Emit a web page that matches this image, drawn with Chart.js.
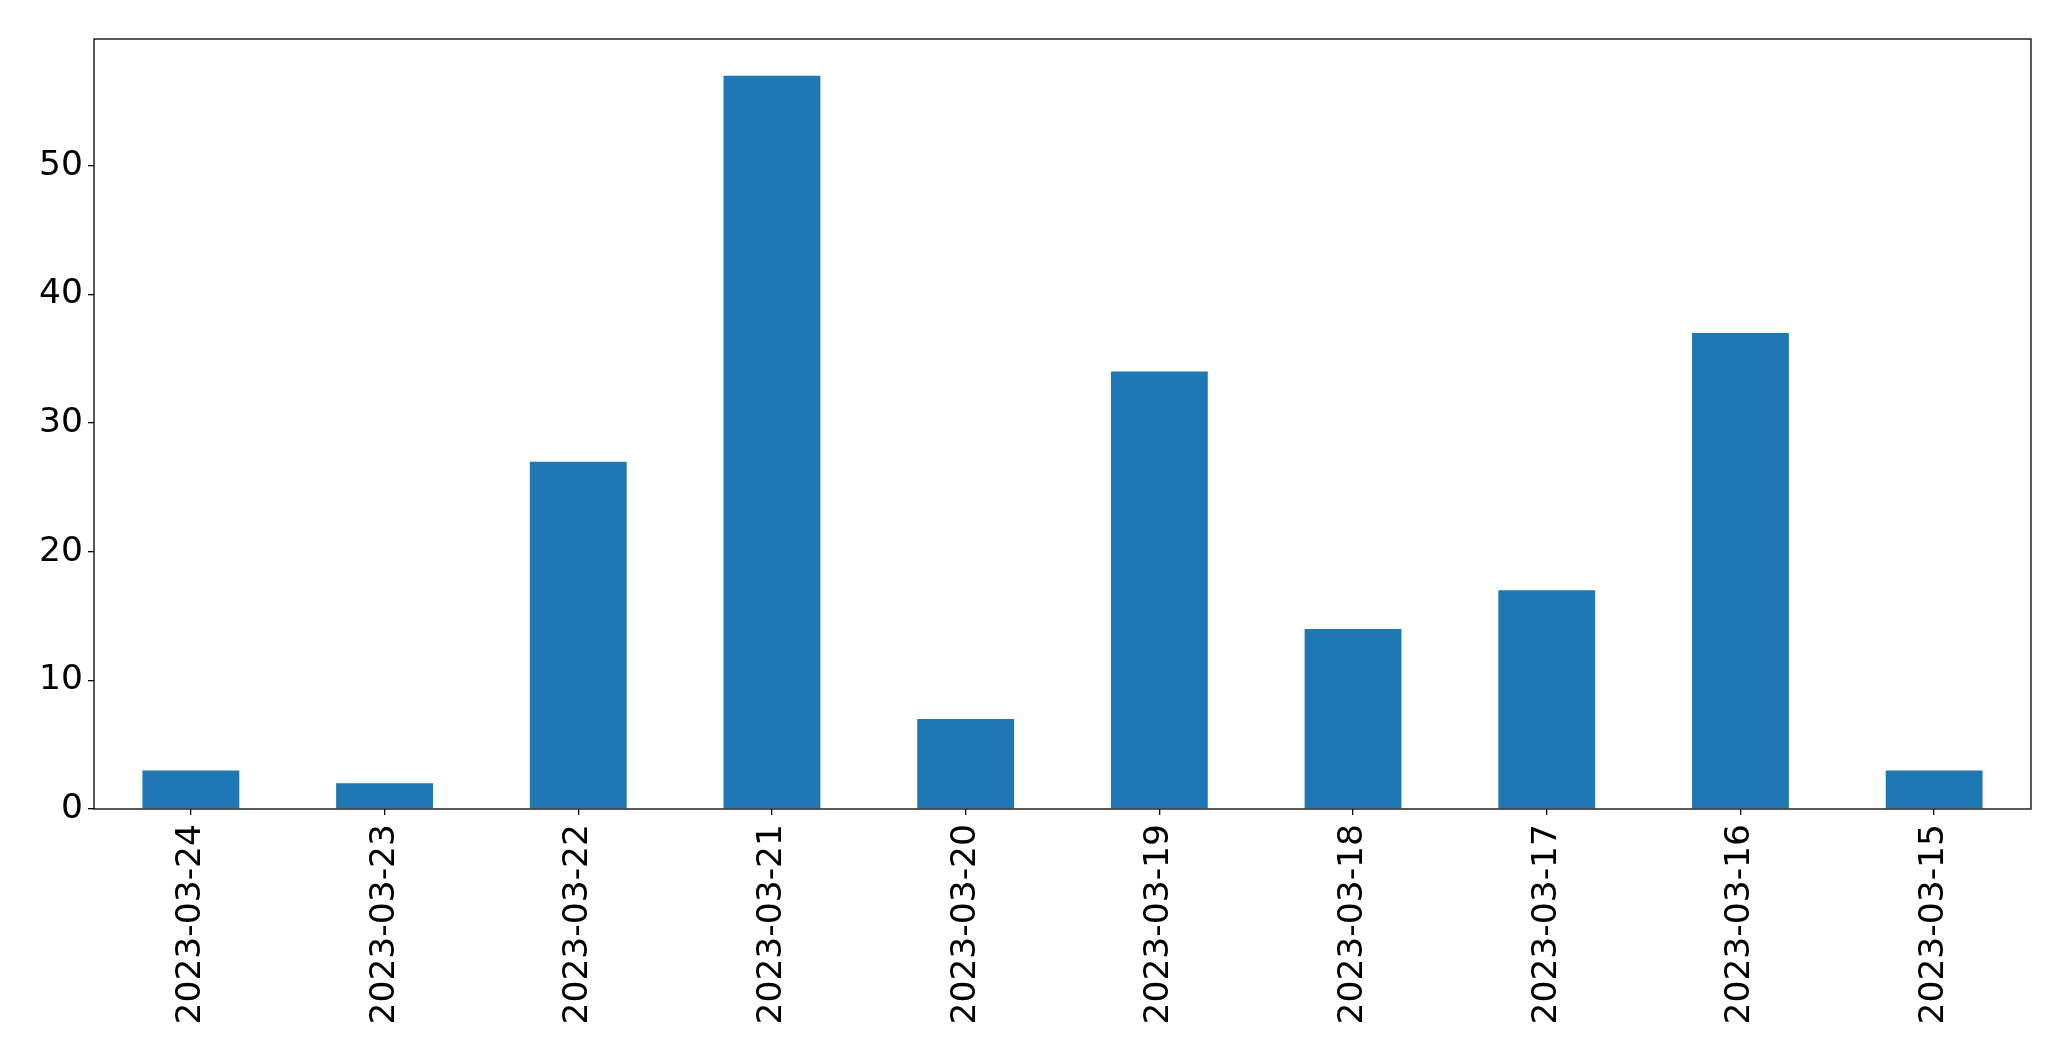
<!DOCTYPE html>
<html>
<head>
<meta charset="utf-8">
<script src="https://cdn.jsdelivr.net/npm/chart.js@4/dist/chart.umd.min.js"></script>
<style>
  html, body { margin: 0; padding: 0; background: #fff; }
  #wrap { width: 2071px; height: 1061px; }
</style>
</head>
<body>
<div id="wrap"><canvas id="ch"></canvas></div>
<script>
const dates = ['2023-03-24', '2023-03-23', '2023-03-22', '2023-03-21', '2023-03-20',
               '2023-03-19', '2023-03-18', '2023-03-17', '2023-03-16', '2023-03-15'];
const counts = [3, 2, 27, 57, 7, 34, 14, 17, 37, 3];
const yTicks = [0, 10, 20, 30, 40, 50];

// matplotlib-style frame around the plot area
const frame = {
  id: 'frame',
  afterDraw(chart) {
    const { ctx, chartArea: a } = chart;
    ctx.save();
    ctx.strokeStyle = '#000';
    ctx.lineWidth = 1.3;
    ctx.strokeRect(a.left, a.top, a.right - a.left, a.bottom - a.top);
    ctx.restore();
  }
};

const font = { family: "'DejaVu Sans', sans-serif", size: 34.5 };

new Chart(document.getElementById('ch'), {
  type: 'bar',
  data: {
    labels: dates,
    datasets: [{
      data: counts,
      backgroundColor: '#1f77b4',
      categoryPercentage: 1,
      barPercentage: 0.5
    }]
  },
  options: {
    responsive: true,
    maintainAspectRatio: false,
    animation: false,
    layout: { padding: { top: 39, right: 40, left: 0, bottom: 0 } },
    plugins: { legend: { display: false }, tooltip: { enabled: false } },
    scales: {
      x: {
        offset: true,
        grid: { display: true, offset: false, drawOnChartArea: false, tickLength: 6, color: '#000', lineWidth: 1.3 },
        border: { display: false },
        ticks: { color: '#000', font, minRotation: 90, maxRotation: 90, padding: 9, autoSkip: false },
        afterFit(s) { s.height = 252; }
      },
      y: {
        min: 0,
        max: 59.85,
        grid: { display: true, drawOnChartArea: false, tickLength: 6, color: '#000', lineWidth: 1.3 },
        border: { display: false },
        ticks: { color: '#000', font, padding: 5 },
        afterBuildTicks(s) { s.ticks = yTicks.map(v => ({ value: v })); },
        afterFit(s) { s.width = 94; }
      }
    }
  },
  plugins: [frame]
});
</script>
</body>
</html>
